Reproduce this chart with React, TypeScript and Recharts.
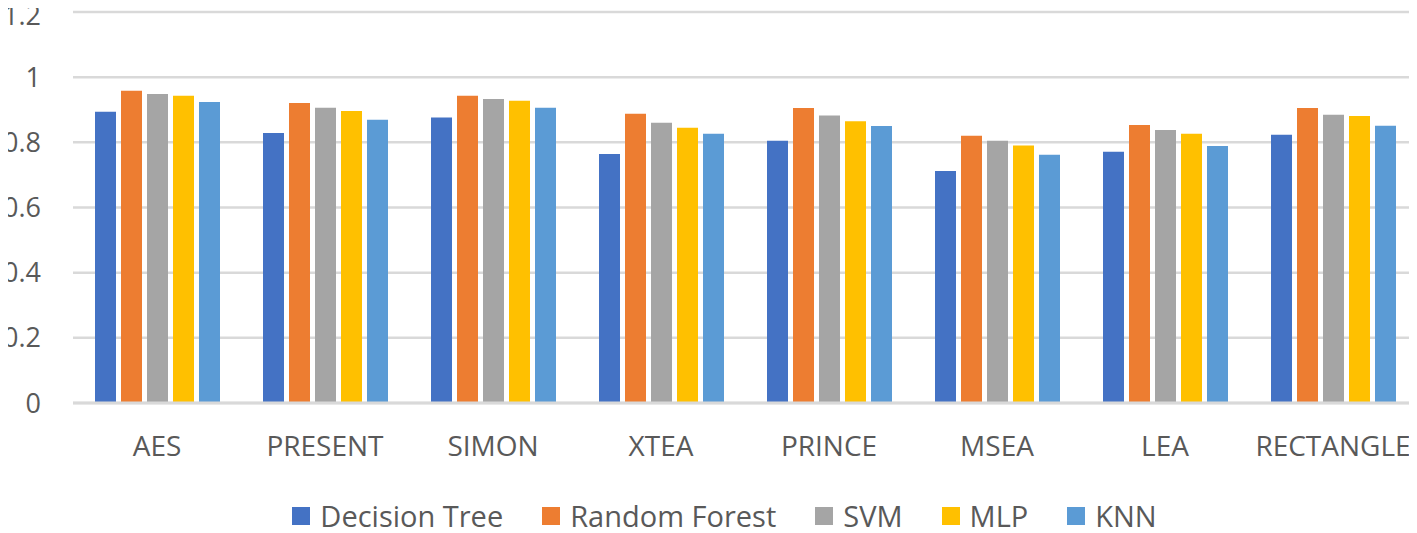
import React from "react";
import { BarChart, Bar, XAxis, YAxis, CartesianGrid, Legend } from "recharts";

const categories = ["AES", "PRESENT", "SIMON", "XTEA", "PRINCE", "MSEA", "LEA", "RECTANGLE"];
const decisionTree = [0.894, 0.829, 0.876, 0.764, 0.805, 0.712, 0.771, 0.823];
const randomForest = [0.958, 0.921, 0.943, 0.888, 0.905, 0.82, 0.853, 0.905];
const svm = [0.948, 0.906, 0.933, 0.86, 0.882, 0.805, 0.838, 0.885];
const mlp = [0.943, 0.896, 0.928, 0.845, 0.865, 0.79, 0.826, 0.881];
const knn = [0.924, 0.869, 0.906, 0.826, 0.85, 0.762, 0.789, 0.851];
const yTicks = [0, 0.2, 0.4, 0.6, 0.8, 1, 1.2];

const seriesNames = ["Decision Tree", "Random Forest", "SVM", "MLP", "KNN"];
const seriesKeys = ["dt", "rf", "svm", "mlp", "knn"];
const seriesColors = ["#4472C4", "#ED7D31", "#A5A5A5", "#FFC000", "#5B9BD5"];

const data = categories.map((name, i) => ({
  name,
  dt: decisionTree[i],
  rf: randomForest[i],
  svm: svm[i],
  mlp: mlp[i],
  knn: knn[i],
}));

const FONT = "'Open Sans', sans-serif";
const TEXT = "#595959";
const W = 1417;
const H = 533;

const LegendContent = () => (
  <div
    style={{
      display: "flex",
      justifyContent: "center",
      alignItems: "center",
      height: 20,
      paddingLeft: 32,
      fontFamily: FONT,
      fontSize: 29,
      color: TEXT,
      lineHeight: "20px",
    }}
  >
    {seriesNames.map((n, i) => (
      <div
        key={n}
        style={{
          display: "flex",
          alignItems: "center",
          marginRight: i < seriesNames.length - 1 ? 39 : 0,
        }}
      >
        <span
          style={{
            display: "inline-block",
            width: 18,
            height: 18,
            background: seriesColors[i],
            marginRight: 10,
          }}
        />
        <span style={{ whiteSpace: "nowrap" }}>{n}</span>
      </div>
    ))}
  </div>
);

export default function App() {
  return (
    <div style={{ margin: "-8px 0 0 -8px", width: W, height: H }}>
      <BarChart
        width={W}
        height={H}
        data={data}
        margin={{ top: 12, right: 0, left: 0, bottom: 7 }}
        barSize={21}
        barGap={5}
        style={{ overflow: "visible" }}
      >
        <CartesianGrid vertical={false} stroke="#d9d9d9" strokeWidth={2.5} />
        <XAxis
          dataKey="name"
          height={103}
          tickLine={false}
          tickSize={0}
          tickMargin={33}
          axisLine={{ stroke: "#d9d9d9", strokeWidth: 3 }}
          tick={{ fill: TEXT, fontSize: 28, fontFamily: FONT }}
          interval={0}
        />
        <YAxis
          width={73}
          domain={[0, 1.2]}
          ticks={yTicks}
          tickLine={false}
          axisLine={false}
          tickSize={0}
          tickMargin={32}
          tick={{ fill: TEXT, fontSize: 27, fontFamily: FONT }}
          tickFormatter={(v) => String(v)}
        />
        <Legend
          verticalAlign="bottom"
          content={LegendContent}
          wrapperStyle={{ left: 0, width: W, bottom: 7 }}
        />
        {seriesKeys.map((k, i) => (
          <Bar key={k} dataKey={k} name={seriesNames[i]} fill={seriesColors[i]} isAnimationActive={false} />
        ))}
      </BarChart>
    </div>
  );
}
